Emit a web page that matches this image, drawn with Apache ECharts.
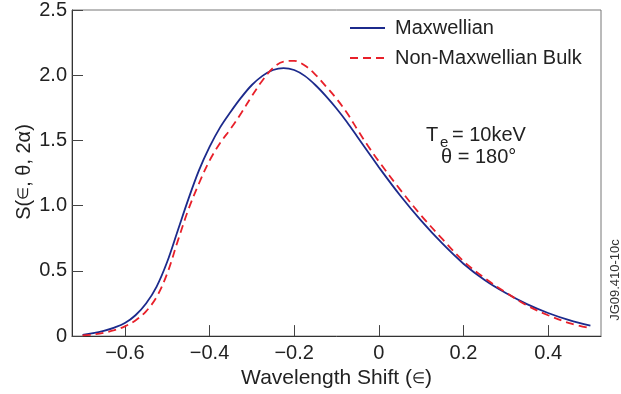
<!DOCTYPE html>
<html>
<head>
<meta charset="utf-8">
<script src="https://cdn.jsdelivr.net/npm/echarts@6/dist/echarts.min.js"></script>
<style>
html,body{margin:0;padding:0;background:#fff;}
#chart{width:621px;height:394px;}
</style>
</head>
<body>
<div id="chart"></div>
<script>
var xs = [-0.70,-0.675,-0.65,-0.625,-0.60,-0.575,-0.55,-0.525,-0.50,-0.475,-0.45,-0.425,-0.40,-0.375,-0.35,-0.325,-0.30,-0.275,-0.25,-0.225,-0.20,-0.175,-0.15,-0.125,-0.10,-0.075,-0.05,-0.025,0,0.05,0.10,0.15,0.20,0.25,0.30,0.35,0.40,0.45,0.50];
var maxwellian = [0.01,0.022,0.04,0.065,0.10,0.16,0.25,0.38,0.57,0.81,1.05,1.27,1.45,1.60,1.72,1.83,1.925,1.995,2.04,2.055,2.04,1.995,1.925,1.84,1.745,1.64,1.525,1.41,1.295,1.08,0.885,0.71,0.555,0.43,0.33,0.245,0.177,0.122,0.08];
var nonMaxwellian = [0.005,0.012,0.025,0.045,0.075,0.12,0.19,0.30,0.48,0.73,0.97,1.17,1.345,1.48,1.59,1.71,1.84,1.96,2.055,2.105,2.11,2.075,2.005,1.915,1.82,1.71,1.58,1.455,1.34,1.125,0.925,0.745,0.575,0.445,0.335,0.235,0.16,0.10,0.06];
var xTicks = [-0.6,-0.4,-0.2,0,0.2,0.4];
var yTicks = [0,0.5,1.0,1.5,2.0,2.5];
var seriesNames = ['Maxwellian','Non-Maxwellian Bulk'];

function pairs(ys){ return xs.map(function(x,i){ return [x, ys[i]]; }); }
function fmtX(v){ if (Math.abs(v) < 1e-9) return '0'; return (v<0?'\u2212':'') + Math.abs(v).toFixed(1); }

var chart = echarts.init(document.getElementById('chart'), null, {renderer:'canvas'});
var font = 'Liberation Sans, Arial, Helvetica, sans-serif';
chart.setOption({
  animation:false,
  backgroundColor:'#fff',
  textStyle:{fontFamily:font},
  grid:{left:72, right:20, top:10, bottom:57, show:true, borderColor:'#777', borderWidth:1, backgroundColor:'transparent'},
  legend:{
    orient:'vertical', left:344, top:13, itemWidth:35, itemHeight:12, itemGap:10,
    itemStyle:{color:'rgba(0,0,0,0)', borderColor:'rgba(0,0,0,0)', borderWidth:0},
    textStyle:{fontSize:20, color:'#222', fontFamily:font, padding:[0,0,0,5]},
    data:seriesNames
  },
  xAxis:{
    type:'value', min:-0.725, max:0.525,
    axisLine:{show:true, onZero:false, lineStyle:{color:'#333', width:1}},
    axisTick:{show:true, inside:true, length:11, customValues:xTicks, lineStyle:{color:'#444'}},
    axisLabel:{customValues:xTicks, formatter:fmtX, fontSize:20, color:'#222', margin:7, fontFamily:font},
    splitLine:{show:false},
    name:'Wavelength Shift ({s|\u2208})', nameLocation:'middle', nameGap:31,
    nameTextStyle:{fontSize:21, color:'#222', fontFamily:font, rich:{s:{fontSize:15, color:'#222', fontFamily:font}}}
  },
  yAxis:{
    type:'value', min:0, max:2.5, interval:0.5,
    axisLine:{show:true, onZero:false, lineStyle:{color:'#333', width:1}},
    axisTick:{show:true, inside:true, length:11, lineStyle:{color:'#444'}},
    axisLabel:{formatter:function(v){ return v===0?'0':v.toFixed(1); }, fontSize:20, color:'#222', margin:5, fontFamily:font},
    splitLine:{show:false}
  },
  graphic:[
    {type:'text', x:24, y:172, rotation:Math.PI/2,
     style:{text:'S({s|\u2208}, \u03b8, 2\u03b1)', font:'20px '+font, fill:'#222', align:'center', verticalAlign:'middle',
            rich:{s:{fontSize:15, fontFamily:font, fill:'#222'}}}},
    {type:'text', left:426, top:125, style:{text:'T', font:'20px '+font, fill:'#222'}},
    {type:'text', left:440, top:135, style:{text:'e', font:'15px '+font, fill:'#222'}},
    {type:'text', left:452, top:125, style:{text:'= 10keV', font:'20px '+font, fill:'#222'}},
    {type:'text', left:441, top:147, style:{text:'\u03b8 = 180\u00b0', font:'20px '+font, fill:'#222'}},
    {type:'text', x:622, y:280, rotation:Math.PI/2, style:{text:'JG09.410-10c', font:'13px '+font, fill:'#333', align:'center', verticalAlign:'bottom'}}
  ],
  series:[
    {name:seriesNames[0], type:'line', data:pairs(maxwellian), smooth:0.35, symbol:'none',
     lineStyle:{color:'#1c2a8c', width:1.8}, itemStyle:{color:'#1c2a8c'}},
    {name:seriesNames[1], type:'line', data:pairs(nonMaxwellian), smooth:0.35, symbol:'none',
     lineStyle:{color:'#e8202a', width:1.8, type:[8,5]}, itemStyle:{color:'#e8202a'}}
  ]
});
</script>
</body>
</html>
